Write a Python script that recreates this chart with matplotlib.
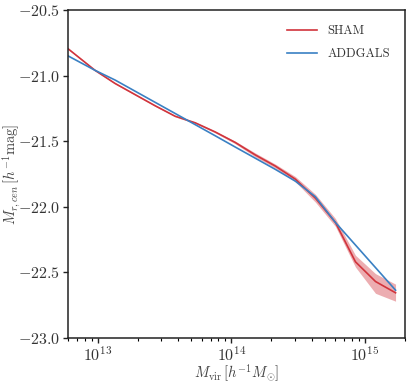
import numpy as np
import matplotlib
matplotlib.use("Agg")
import matplotlib.pyplot as plt

plt.rcParams['font.family'] = 'serif'
plt.rcParams['font.serif'] = ['cmr10', 'DejaVu Serif']
plt.rcParams['mathtext.fontset'] = 'cm'
plt.rcParams['axes.formatter.use_mathtext'] = True
plt.rcParams['axes.unicode_minus'] = True

# log10 halo mass bins
log_mvir = [12.78, 12.98, 13.13, 13.28, 13.43, 13.58, 13.73, 13.88, 14.03,
            14.18, 14.33, 14.48, 14.63, 14.78, 14.93, 15.08, 15.23]
# SHAM central magnitude with band
sham = [-20.797, -20.96, -21.06, -21.145, -21.23, -21.31, -21.36, -21.43, -21.51,
        -21.605, -21.69, -21.79, -21.935, -22.12, -22.42, -22.57, -22.656]
sham_hi = [-20.792, -20.955, -21.055, -21.14, -21.225, -21.305, -21.354, -21.423, -21.50,
           -21.59, -21.675, -21.77, -21.905, -22.09, -22.37, -22.51, -22.59]
sham_lo = [-20.802, -20.965, -21.065, -21.15, -21.235, -21.315, -21.366, -21.437, -21.52,
           -21.62, -21.705, -21.81, -21.965, -22.15, -22.46, -22.66, -22.72]
# ADDGALS central magnitude
addgals = [-20.851, -20.96, -21.034, -21.119, -21.204, -21.289, -21.374, -21.459, -21.545,
           -21.63, -21.715, -21.805, -21.924, -22.12, -22.292, -22.464, -22.636]

RED = '#d1343c'
BLUE = '#3a80c3'

mvir = 10 ** np.array(log_mvir)

fig = plt.figure(figsize=(4.15, 3.84), dpi=100)
ax = fig.add_axes([0.164, 0.12, 0.812, 0.854])

ax.fill_between(mvir, sham_lo, sham_hi, color=RED, alpha=0.4, linewidth=0)
ax.plot(mvir, sham, color=RED, lw=1.2, label='SHAM')
ax.plot(mvir, addgals, color=BLUE, lw=1.2, label='ADDGALS')

ax.set_xscale('log')
ax.set_xlim(6.0e12, 2.0e15)
ax.set_ylim(-23.0, -20.5)
ax.set_yticks([-23.0, -22.5, -22.0, -21.5, -21.0, -20.5])
ax.yaxis.set_major_formatter(matplotlib.ticker.FuncFormatter(lambda v, p: r'$%.1f$' % v))

ax.tick_params(axis='both', which='major', direction='out', length=3.5, width=1,
               labelsize=11.5, pad=2, colors='#222222', labelcolor='#333333')
ax.tick_params(axis='x', which='minor', direction='out', length=2.5, width=0.8)
ax.tick_params(top=False, right=False)
for s in ax.spines.values():
    s.set_color('#222222')
    s.set_linewidth(1.1)

ax.set_xlabel(r'$M_{\rm vir}\,[h^{-1}M_{\odot}]$', fontsize=10.5, color='#444444', labelpad=0)
ax.set_ylabel(r'$M_{r,cen}\,[h^{-1}{\rm mag}]$', fontsize=10.5, color='#444444', labelpad=0)
ax.yaxis.set_label_coords(-0.138, 0.5)
ax.xaxis.set_label_coords(0.5, -0.075)

leg = ax.legend(loc='upper right', frameon=False, fontsize=9, handlelength=2.4,
                borderaxespad=0.8, labelspacing=0.9)
for t in leg.get_texts():
    t.set_color('#333333')

fig.savefig('out.png', dpi=100)
